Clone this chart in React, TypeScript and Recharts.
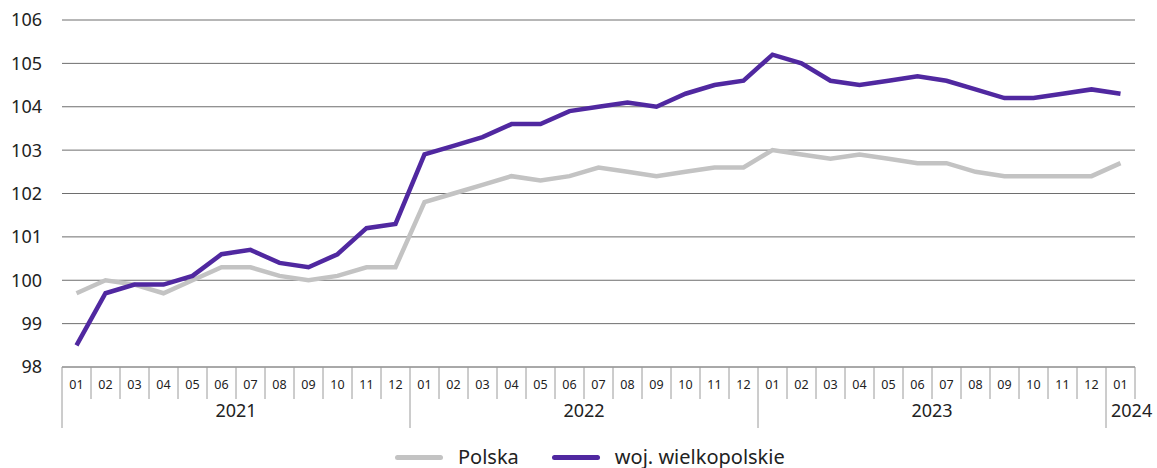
import React from "react";
import { LineChart, Line, XAxis, YAxis, CartesianGrid, Legend } from "recharts";

const years = ["2021", "2021", "2021", "2021", "2021", "2021", "2021", "2021", "2021", "2021", "2021", "2021",
  "2022", "2022", "2022", "2022", "2022", "2022", "2022", "2022", "2022", "2022", "2022", "2022",
  "2023", "2023", "2023", "2023", "2023", "2023", "2023", "2023", "2023", "2023", "2023", "2023",
  "2024"];
const months = ["01", "02", "03", "04", "05", "06", "07", "08", "09", "10", "11", "12",
  "01", "02", "03", "04", "05", "06", "07", "08", "09", "10", "11", "12",
  "01", "02", "03", "04", "05", "06", "07", "08", "09", "10", "11", "12",
  "01"];
const polska = [99.7, 100.0, 99.9, 99.7, 100.0, 100.3, 100.3, 100.1, 100.0, 100.1, 100.3, 100.3,
  101.8, 102.0, 102.2, 102.4, 102.3, 102.4, 102.6, 102.5, 102.4, 102.5, 102.6, 102.6,
  103.0, 102.9, 102.8, 102.9, 102.8, 102.7, 102.7, 102.5, 102.4, 102.4, 102.4, 102.4,
  102.7];
const wielkopolskie = [98.5, 99.7, 99.9, 99.9, 100.1, 100.6, 100.7, 100.4, 100.3, 100.6, 101.2, 101.3,
  102.9, 103.1, 103.3, 103.6, 103.6, 103.9, 104.0, 104.1, 104.0, 104.3, 104.5, 104.6,
  105.2, 105.0, 104.6, 104.5, 104.6, 104.7, 104.6, 104.4, 104.2, 104.2, 104.3, 104.4,
  104.3];
const yTicks = [98, 99, 100, 101, 102, 103, 104, 105, 106];

const data = months.map((m, i) => ({
  key: `${years[i]}-${m}`,
  month: m,
  year: years[i],
  polska: polska[i],
  wielkopolskie: wielkopolskie[i],
}));

const FONT = "'Noto Sans', 'DejaVu Sans', sans-serif";
const PURPLE = "#5028A0";
const GREY = "#C3C3C3";
const SEP = "#9a9a9a";

const MonthYearTick = (props: any) => {
  const { x, y, index, width, visibleTicksCount, payload } = props;
  const band = width / visibleTicksCount;
  const half = payload && payload.offset ? payload.offset : band / 2;
  const d = data[index];
  if (!d) return null;
  const isYearStart = index === 0 || data[index - 1].year !== d.year;
  const monthH = 32;
  const yearH = 61;
  const els: any[] = [];
  els.push(
    <line key="l" x1={x - half} x2={x - half} y1={y} y2={y + (isYearStart ? yearH : monthH)} stroke={SEP} strokeWidth={1} />
  );
  if (index === data.length - 1) {
    els.push(<line key="r" x1={x + half} x2={x + half} y1={y} y2={y + monthH} stroke={SEP} strokeWidth={1} />);
  }
  els.push(
    <text key="m" x={x} y={y + 22} textAnchor="middle" fontSize={12.5} fill="#222" fontFamily={FONT}>
      {d.month}
    </text>
  );
  if (isYearStart) {
    let n = 0;
    for (let j = index; j < data.length && data[j].year === d.year; j++) n++;
    const left = x - half;
    const single = n === 1;
    els.push(
      <text key="y" x={single ? left + 5 : left + n * half} y={y + 50} textAnchor={single ? "start" : "middle"} fontSize={18} fill="#222" fontFamily={FONT}>
        {d.year}
      </text>
    );
  }
  return <g>{els}</g>;
};

const LegendContent = () => {
  const items = [
    { label: "Polska", color: GREY },
    { label: "woj. wielkopolskie", color: PURPLE },
  ];
  return (
    <div style={{ height: 30, display: "flex", alignItems: "center", paddingLeft: 395, paddingTop: 8, boxSizing: "border-box", fontFamily: FONT }}>
      {items.map((it, i) => (
        <div key={it.label} style={{ display: "flex", alignItems: "center", marginRight: i === 0 ? 33 : 0 }}>
          <span style={{ display: "inline-block", width: 48, height: 5, borderRadius: 3, background: it.color, marginRight: 15 }} />
          <span style={{ fontSize: 20, color: "#222", lineHeight: "22px" }}>{it.label}</span>
        </div>
      ))}
    </div>
  );
};

export default function App() {
  return (
    <div style={{ position: "absolute", left: 0, top: 0, width: 1157, height: 468, background: "#fff", fontFamily: FONT }}>
      <LineChart width={1157} height={468} data={data} margin={{ top: 20, right: 22, left: 0, bottom: 0 }}>
        <CartesianGrid horizontal={true} vertical={false} stroke="#6e6e6e" strokeWidth={1} />
        <XAxis
          dataKey="key"
          scale="band"
          interval={0}
          height={71}
          tickLine={false}
          tickSize={0}
          tickMargin={0}
          axisLine={{ stroke: SEP, strokeWidth: 1 }}
          tick={<MonthYearTick />}
        />
        <YAxis
          domain={[98, 106]}
          ticks={yTicks}
          interval={0}
          width={62}
          axisLine={false}
          tickLine={false}
          tickSize={0}
          tickMargin={20}
          tick={{ fontSize: 18, fill: "#222", fontFamily: FONT }}
        />
        <Legend verticalAlign="bottom" height={30} content={<LegendContent />} />
        <Line type="linear" dataKey="polska" name="Polska" stroke={GREY} strokeWidth={4.5} dot={false} isAnimationActive={false} />
        <Line type="linear" dataKey="wielkopolskie" name="woj. wielkopolskie" stroke={PURPLE} strokeWidth={4.5} dot={false} isAnimationActive={false} />
      </LineChart>
    </div>
  );
}
